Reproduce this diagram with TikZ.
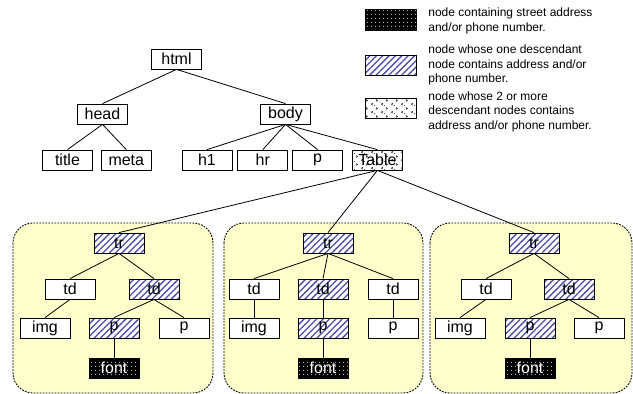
\documentclass[tikz,border=0pt]{standalone}
\usepackage{fontspec}
\setmainfont{Liberation Sans}
\usepackage{tikz}
\usetikzlibrary{positioning, patterns, patterns.meta}
\definecolor{HatchBlue}{rgb}{0.30, 0.30, 0.66}
\definecolor{PanelYellow}{rgb}{1.0, 1.0, 0.80}
\definecolor{ChevGray}{rgb}{0.15, 0.15, 0.15}
\newcommand{\tagsize}{\fontsize{16}{18}\selectfont}
\newcommand{\legsize}{\fontsize{12}{14.7}\selectfont}
\pgfdeclarepatternformonly{chevs}{\pgfqpoint{0pt}{0pt}}{\pgfqpoint{10pt}{8pt}}{\pgfqpoint{10pt}{8pt}}{
  \pgfsetlinewidth{0.7pt}
  \pgfpathmoveto{\pgfqpoint{3pt}{3pt}}\pgfpathlineto{\pgfqpoint{1.5pt}{2pt}}\pgfpathlineto{\pgfqpoint{3pt}{1pt}}
  \pgfpathmoveto{\pgfqpoint{6.5pt}{7pt}}\pgfpathlineto{\pgfqpoint{8pt}{6pt}}\pgfpathlineto{\pgfqpoint{6.5pt}{5pt}}
  \pgfusepath{stroke}
  \pgfpathcircle{\pgfqpoint{5pt}{0.5pt}}{0.5pt}
  \pgfusepath{fill}
}

\begin{document}
\begin{tikzpicture}[
    x=1pt, y=-1pt, line width=0.8pt,
    tag/.style={draw, fill=white, minimum width=50pt, minimum height=20pt, inner sep=0pt, font=\tagsize},
    hit/.style={tag, fill=none, preaction={fill=white}, pattern={Lines[angle=45, distance=4.5pt, line width=1.3pt]},
        pattern color=HatchBlue},
    addr/.style={tag, fill=none, preaction={fill=black}, pattern={Dots[distance=4pt, radius=0.6pt]},
        pattern color=white, text=white},
    multi/.style={tag, fill=none, preaction={fill=white}, pattern=chevs, pattern color=ChevGray},
    panel/.style={draw, line width=0.9pt, dash pattern=on 1.8pt off 1.2pt, rounded corners=20pt, fill=PanelYellow},
    legtext/.style={anchor=north west, inner sep=0pt, align=left, font=\legsize},
]
\useasboundingbox (0,0) rectangle (633,394);

% ---- legend ----
\node[addr, minimum width=51pt, minimum height=21pt] (lgaddr) at (390.5,20) {};
\node[hit, minimum width=51pt] (lghit) at (390.5,65) {};
\node[multi, minimum width=51pt] (lgmulti) at (390.5,108) {};
\node[legtext] (lgaddrtxt) at (428,7.7) {node containing street address\\and/or phone number.};
\node[legtext] (lghittxt) at (428,44.4) {node whose one descendant\\node contains address and/or\\phone number.};
\node[legtext] (lgmultitxt) at (428,91.1) {node whose 2 or more\\descendant nodes contains\\address and/or phone number.};

% ---- html tree ----
\node[tag] (html) at (176.5,59) {html};
\node[tag] (head) at (102.5,114) {head};
\node[tag] (body) at (285.5,114) {body};
\node[tag] (title) at (67.5,160) {title};
\node[tag, right=8pt of title] (meta) {meta};
\node[tag] (h1) at (207,160) {h1};
\node[tag, right=5pt of h1] (hr) {hr};
\node[tag, right=4pt of hr] (para) {p};
\node[multi, right=9pt of para] (tbl) {Table};

\draw (html.south) -- (head.north);
\draw (html.south) -- (body.north);
\draw (head.south) -- (title.north);
\draw (head.south) -- (meta.north);
\draw (body.south) -- (h1.north);
\draw (body.south) -- (hr.north);
\draw (body.south) -- (para.north);
\draw (body.south) -- (tbl.north);

% ---- table rows ----
\draw[panel] (13,223) rectangle (213,393);
\draw[panel] (224,223) rectangle (423,393);
\draw[panel] (430,223) rectangle (632,393);

% first row
\node[hit] (tra) at (119,243) {tr};
\node[tag] (tdaa) at (70,289) {td};
\node[hit] (tdab) at (154,289) {td};
\node[tag] (imga) at (45,328) {img};
\node[hit] (pab) at (114,328) {p};
\node[tag] (pac) at (184,328) {p};
\node[addr] (fonta) at (114,368) {font};

% second row
\node[hit] (trb) at (328,243) {tr};
\node[tag] (tdba) at (254,289) {td};
\node[hit] (tdbb) at (323,289) {td};
\node[tag] (tdbc) at (393,289) {td};
\node[tag] (imgb) at (254,328) {img};
\node[hit] (pbb) at (323,328) {p};
\node[tag] (pbc) at (393,328) {p};
\node[addr] (fontb) at (323,368) {font};

% third row
\node[hit] (trc) at (534,243) {tr};
\node[tag] (tdca) at (486,289) {td};
\node[hit] (tdcb) at (569,289) {td};
\node[tag] (imgc) at (460,328) {img};
\node[hit] (pcb) at (530,328) {p};
\node[tag] (pcc) at (599,328) {p};
\node[addr] (fontc) at (530,368) {font};

\draw (tbl.south) -- (tra.north);
\draw (tbl.south) -- (trb.north);
\draw (tbl.south) -- (trc.north);

\draw (tra.south) -- (tdaa.north);
\draw (tra.south) -- (tdab.north);
\draw (tdaa.south) -- (imga.north);
\draw (tdab.south) -- (pab.north);
\draw (tdab.south) -- (pac.north);
\draw (pab.south) -- (fonta.north);

\draw (trb.south) -- (tdba.north);
\draw (trb.south) -- (tdbb.north);
\draw (trb.south) -- (tdbc.north);
\draw (tdba.south) -- (imgb.north);
\draw (tdbb.south) -- (pbb.north);
\draw (tdbc.south) -- (pbc.north);
\draw (pbb.south) -- (fontb.north);

\draw (trc.south) -- (tdca.north);
\draw (trc.south) -- (tdcb.north);
\draw (tdca.south) -- (imgc.north);
\draw (tdcb.south) -- (pcb.north);
\draw (tdcb.south) -- (pcc.north);
\draw (pcb.south) -- (fontc.north);

\end{tikzpicture}
\end{document}
